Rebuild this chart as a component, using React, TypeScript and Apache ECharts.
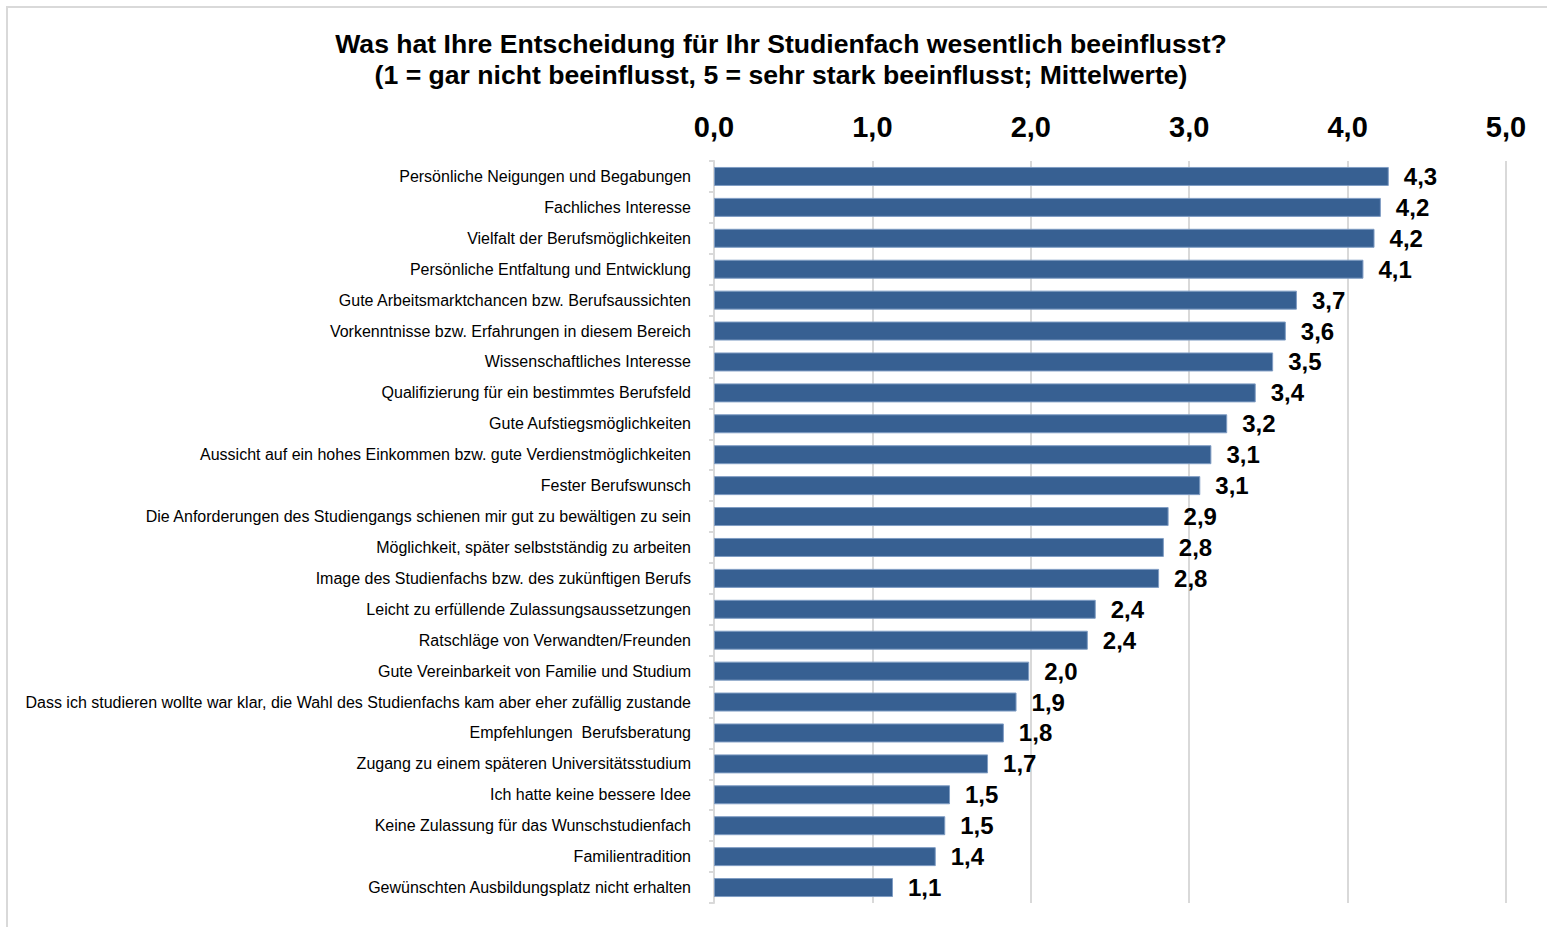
import React, { useEffect, useRef } from "react";
import * as echarts from "echarts";

const categories: string[] = [
  "Persönliche Neigungen und Begabungen",
  "Fachliches Interesse",
  "Vielfalt der Berufsmöglichkeiten",
  "Persönliche Entfaltung und Entwicklung",
  "Gute Arbeitsmarktchancen bzw. Berufsaussichten",
  "Vorkenntnisse bzw. Erfahrungen in diesem Bereich",
  "Wissenschaftliches Interesse",
  "Qualifizierung für ein bestimmtes Berufsfeld",
  "Gute Aufstiegsmöglichkeiten",
  "Aussicht auf ein hohes Einkommen bzw. gute Verdienstmöglichkeiten",
  "Fester Berufswunsch",
  "Die Anforderungen des Studiengangs schienen mir gut zu bewältigen zu sein",
  "Möglichkeit, später selbstständig zu arbeiten",
  "Image des Studienfachs bzw. des zukünftigen Berufs",
  "Leicht zu erfüllende Zulassungsaussetzungen",
  "Ratschläge von Verwandten/Freunden",
  "Gute Vereinbarkeit von Familie und Studium",
  "Dass ich studieren wollte war klar, die Wahl des Studienfachs kam aber eher zufällig zustande",
  "Empfehlungen  Berufsberatung",
  "Zugang zu einem späteren Universitätsstudium",
  "Ich hatte keine bessere Idee",
  "Keine Zulassung für das Wunschstudienfach",
  "Familientradition",
  "Gewünschten Ausbildungsplatz nicht erhalten",
];

const meanValues: number[] = [
  4.26, 4.21, 4.17, 4.1, 3.68, 3.61, 3.53, 3.42, 3.24, 3.14, 3.07, 2.87,
  2.84, 2.81, 2.41, 2.36, 1.99, 1.91, 1.83, 1.73, 1.49, 1.46, 1.4, 1.13,
];

const titleLines: string[] = [
  "Was hat Ihre Entscheidung für Ihr Studienfach wesentlich beeinflusst?",
  "(1 = gar nicht beeinflusst, 5 = sehr stark beeinflusst; Mittelwerte)",
];

const fmt = (v: number) => v.toFixed(1).replace(".", ",");

export default function App() {
  const ref = useRef<HTMLDivElement>(null);
  useEffect(() => {
    if (!ref.current) return;
    const chart = echarts.init(ref.current, undefined, { renderer: "svg" });
    const font = "'Liberation Sans', Arial, sans-serif";
    chart.setOption({
      animation: false,
      backgroundColor: "#ffffff",
      title: {
        text: titleLines.join("\n"),
        left: 776,
        top: 23,
        textAlign: "center",
        textStyle: {
          fontFamily: font,
          fontWeight: "bold",
          fontSize: 26.6,
          lineHeight: 31,
          color: "#000000",
        },
      },
      graphic: [
        {
          type: "rect",
          shape: { x: 7, y: 7, width: 1580, height: 960 },
          style: { fill: "none", stroke: "#D9D9D9", lineWidth: 2 },
          silent: true,
        },
      ],
      grid: { left: 714, right: 41, top: 161, bottom: 24, containLabel: false },
      xAxis: {
        type: "value",
        position: "top",
        min: 0,
        max: 5,
        interval: 1,
        axisLine: { show: false },
        axisTick: { show: false },
        axisLabel: {
          formatter: (v: number) => fmt(v),
          fontFamily: font,
          fontWeight: "bold",
          fontSize: 29,
          color: "#000000",
          margin: 20,
        },
        splitLine: { show: true, lineStyle: { color: "#D9D9D9", width: 2 } },
      },
      yAxis: {
        type: "category",
        inverse: true,
        data: categories,
        axisLine: { show: true, lineStyle: { color: "#D9D9D9", width: 2 } },
        axisTick: { show: true, length: 5, lineStyle: { color: "#D9D9D9", width: 2 } },
        axisLabel: {
          fontFamily: font,
          fontSize: 16,
          color: "#000000",
          margin: 23,
        },
      },
      series: [
        {
          type: "bar",
          data: meanValues,
          barWidth: 19,
          itemStyle: { color: "#376092", borderColor: "#7F9CC3", borderWidth: 1 },
          label: {
            show: true,
            position: "right",
            distance: 15,
            formatter: (p: any) => fmt(p.value),
            fontFamily: font,
            fontWeight: "bold",
            fontSize: 24,
            color: "#000000",
          },
        },
      ],
    });
    return () => chart.dispose();
  }, []);
  return (
    <div
      ref={ref}
      style={{ position: "fixed", left: 0, top: 0, width: 1547, height: 927 }}
    />
  );
}
